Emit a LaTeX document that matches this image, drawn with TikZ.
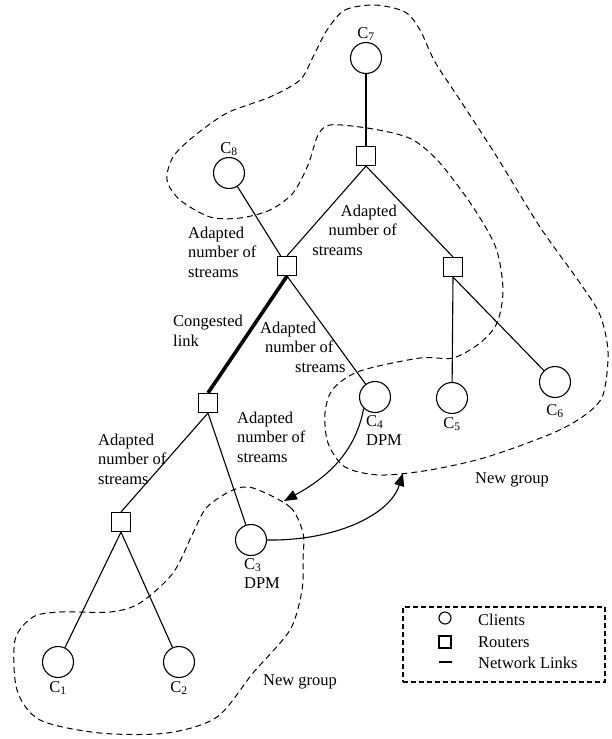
\documentclass[tikz,border=0pt]{standalone}
\usepackage{fontspec}
\setmainfont{Liberation Serif}
\usetikzlibrary{arrows.meta,positioning}
\tikzset{
  client/.style  ={draw,circle,minimum size=31pt,inner sep=0pt,line width=1.1pt},
  router/.style  ={draw,rectangle,minimum size=19pt,inner sep=0pt,line width=1.1pt},
  txt/.style     ={font=\fontsize{16.5}{19.5}\selectfont,inner sep=0pt,align=left},
  netlink/.style ={line width=1.1pt},
  congest/.style ={line width=3.6pt},
  newgrp/.style  ={line width=1pt,dash pattern=on 6pt off 4pt},
  handover/.style={line width=1.1pt,-{Triangle[length=13pt,width=10pt]}},
  keybox/.style  ={draw,line width=1.8pt,dash pattern=on 5pt off 3pt,
                   minimum width=202pt,minimum height=75pt,inner sep=0pt},
}
\newcommand{\cname}[1]{C\textsubscript{#1}}

\begin{document}
\begin{tikzpicture}[x=1pt,y=-1pt]
\useasboundingbox (0,0) rectangle (611,739);
% clients
\node[client] (C7) at (366,58)  {};
\node[client] (C8) at (229,173) {};
\node[client] (C4) at (375,397) {};
\node[client] (C5) at (452,398) {};
\node[client] (C6) at (555,382) {};
\node[client] (C3) at (251,540) {};
\node[client] (C1) at (58,662)  {};
\node[client] (C2) at (179,662) {};
% routers
\node[router] (R1) at (366,156) {};
\node[router] (R2) at (287,266) {};
\node[router] (R3) at (453,267) {};
\node[router] (R4) at (208,403) {};
\node[router] (R5) at (121,522) {};
% client names
\node[txt,above=1pt of C7] (nC7) {\cname{7}};
\node[txt,above=1pt of C8] (nC8) {\cname{8}};
\node[txt,below=2pt of C4,xshift=9pt] (nC4) {\cname{4}\\DPM};
\node[txt,below=3pt of C5] (nC5) {\cname{5}};
\node[txt,below=6pt of C6] (nC6) {\cname{6}};
\node[txt,below=2pt of C3,xshift=11pt] (nC3) {\cname{3}\\DPM};
\node[txt,below=3pt of C1] (nC1) {\cname{1}};
\node[txt,below=3pt of C2] (nC2) {\cname{2}};
% link labels
\node[txt,anchor=west] (aR2) at (188,252) {Adapted\\number of\\streams};
\node[txt,align=right,anchor=east] (aR1) at (397,230) {Adapted\\number of\\streams\hspace*{34pt}};
\node[txt,anchor=west] (cong) at (173,331) {Congested\\link};
\node[txt,anchor=west] (aC4) at (260,347) {Adapted\\\hspace*{5pt}number of\\\hspace*{35pt}streams};
\node[txt,anchor=west] (aC3) at (237,437) {Adapted\\number of\\streams};
\node[txt,anchor=west] (aR5) at (98,459) {Adapted\\number of\\streams};
\node[txt] (gUp) at (512,480) {New group};
\node[txt] (gLow) at (300,682) {New group};
% edges
\draw[netlink] (C7) -- (R1);
\draw[netlink] (R1.south) -- (R2.north);
\draw[netlink] (R1.south) -- (R3.north);
\draw[netlink] (C8) -- (R2);
\draw[netlink] (R2.south) -- (C4);
\draw[congest] (R2.south) -- (R4.north);
\draw[netlink] (R3.south) -- (C5);
\draw[netlink] (R3.south) -- (C6);
\draw[netlink] (R4.south) -- (C3);
\draw[netlink] (R4.south) -- (R5.north);
\draw[netlink] (R5.south) -- (C1);
\draw[netlink] (R5.south) -- (C2);
% groups
\draw[newgrp] plot[smooth cycle] coordinates {
  (327,30) (345,10) (375,5) (405,12) (420,30) (435,62) (460,100) (497,157)
  (540,227) (580,283) (600,315) (608,352) (603,395) (585,415) (553,433)
  (487,457) (430,470) (380,475) (345,467) (328,443) (325,413) (333,389)
  (360,371) (420,358) (453,358) (480,343) (497,323) (503,290) (496,248)
  (473,207) (440,163) (415,141) (393,133) (360,127) (330,125) (318,135)
  (308,165) (293,193) (270,210) (240,218) (210,217) (180,200) (167,180)
  (173,157) (193,137) (227,113) (270,97) (300,80) (313,57)};
\draw[newgrp] plot[smooth cycle] coordinates {
  (253,488) (290,507) (303,533) (303,560) (302,590) (290,630) (253,673)
  (217,717) (167,733) (100,733) (40,720) (17,690) (15,640) (33,617)
  (60,612) (110,612) (140,603) (173,573) (193,533) (207,507) (233,490)};
% DPM moves
\coordinate (tipA) at (284,501);
\coordinate (tipB) at (403,473);
\draw[handover] (C4.south west) .. controls (356,450) and (330,476) .. (tipA);
\draw[handover] (C3.east) .. controls (335,541) and (390,515) .. (tipB);
% key
\node[keybox] (key) at (504,644.5) {};
\node[client,minimum size=12pt] (kC) at (445,618) {};
\node[router,minimum size=12pt] (kR) at (445,642) {};
\coordinate (kL1) at (439,662);
\coordinate (kL2) at (452,662);
\draw[netlink] (kL1) -- (kL2);
\node[txt,anchor=west] (tC) at (478,620) {Clients};
\node[txt,anchor=west] (tR) at (478,642) {Routers};
\node[txt,anchor=west] (tL) at (478,663) {Network Links};
\end{tikzpicture}
\end{document}
